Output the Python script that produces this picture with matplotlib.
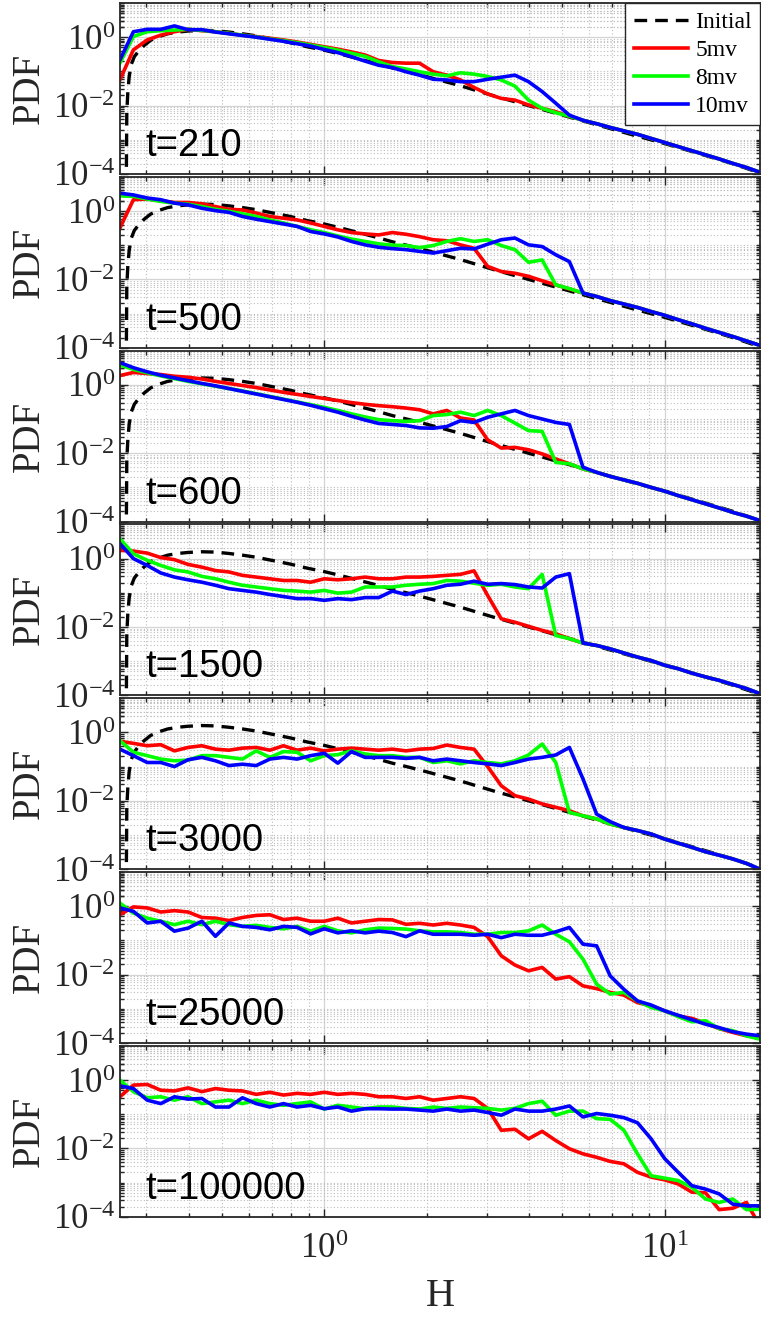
import numpy as np
import matplotlib
matplotlib.use('Agg')
import matplotlib.pyplot as plt
from matplotlib.ticker import FixedLocator, NullFormatter

# сетка по H (общая для всех кривых)
h = [0.251, 0.275, 0.302, 0.331, 0.363, 0.398, 0.437, 0.479, 0.525, 0.575,
     0.631, 0.692, 0.759, 0.832, 0.912, 1.000, 1.096, 1.202, 1.318, 1.445,
     1.585, 1.738, 1.905, 2.089, 2.291, 2.512, 2.754, 3.020, 3.311, 3.631,
     3.981, 4.365, 4.786, 5.248, 5.754, 6.310, 6.918, 7.586, 8.318, 9.120,
     10.00, 10.96, 12.02, 13.18, 14.45, 15.85, 17.38, 19.05]

# начальное распределение (log10 PDF)
h_init = [0.2618, 0.2630, 0.2649, 0.2673, 0.2710, 0.2767, 0.2851, 0.2951, 0.3090, 0.3273,
          0.3467, 0.3715, 0.3981, 0.4365, 0.4786, 0.5248, 0.5754, 0.6310, 0.7079, 0.7943,
          0.8913, 1.000, 1.122, 1.259, 1.413, 1.585, 1.778, 1.995, 2.512, 3.162,
          3.981, 5.012, 6.310, 7.943, 10.00, 12.59, 15.85, 19.05]
lg_init = [-5.0, -2.2, -1.6, -1.15, -0.8, -0.57, -0.40, -0.25, -0.09, 0.02,
           0.10, 0.15, 0.18, 0.20, 0.19, 0.15, 0.10, 0.04, -0.06, -0.16,
           -0.28, -0.38, -0.50, -0.63, -0.76, -0.90, -1.02, -1.15, -1.42, -1.72,
           -2.00, -2.28, -2.56, -2.84, -3.11, -3.40, -3.70, -3.97]

# t=210
r210 = [-1.25, -0.37, -0.08, 0.06, 0.16, 0.23, 0.19, 0.16, 0.11, 0.06, 0.02, -0.03, -0.08, -0.14, -0.21, -0.28,
        -0.35, -0.43, -0.52, -0.68, -0.74, -0.76, -0.76, -1.01, -1.11, -1.25, -1.47, -1.66, -1.79, -1.84, -1.98, -2.08,
        -2.18, -2.31, -2.43, -2.53, -2.64, -2.74, -2.84, -2.96, -3.08, -3.20, -3.32, -3.44, -3.56, -3.69, -3.81, -3.95]
g210 = [-0.76, 0.02, 0.16, 0.19, 0.21, 0.23, 0.20, 0.16, 0.11, 0.06, 0.01, -0.05, -0.10, -0.16, -0.23, -0.30,
        -0.38, -0.47, -0.56, -0.72, -0.86, -0.93, -1.01, -1.08, -1.13, -1.04, -1.08, -1.15, -1.25, -1.43, -1.84, -2.08,
        -2.21, -2.31, -2.43, -2.53, -2.64, -2.74, -2.84, -2.96, -3.08, -3.20, -3.32, -3.44, -3.56, -3.69, -3.81, -3.95]
b210 = [-0.67, 0.16, 0.23, 0.23, 0.33, 0.22, 0.22, 0.15, 0.10, 0.05, 0.00, -0.06, -0.12, -0.19, -0.26, -0.36,
        -0.45, -0.57, -0.70, -0.82, -0.89, -1.01, -1.11, -1.23, -1.25, -1.30, -1.30, -1.23, -1.17, -1.11, -1.30, -1.59,
        -1.93, -2.28, -2.43, -2.53, -2.64, -2.74, -2.84, -2.96, -3.08, -3.20, -3.32, -3.44, -3.56, -3.69, -3.81, -3.95]

# t=500
r500 = [-0.50, 0.33, 0.35, 0.30, 0.25, 0.25, 0.21, 0.13, 0.05, 0.03, -0.06, -0.16, -0.21, -0.26, -0.35, -0.45,
        -0.55, -0.63, -0.67, -0.70, -0.63, -0.68, -0.75, -0.84, -0.87, -0.99, -1.09, -1.62, -1.77, -1.82, -1.91, -2.04,
        -2.16, -2.28, -2.40, -2.50, -2.62, -2.72, -2.82, -2.94, -3.05, -3.18, -3.30, -3.43, -3.55, -3.67, -3.80, -3.93]
g500 = [0.44, 0.43, 0.35, 0.28, 0.23, 0.20, 0.13, 0.05, -0.01, -0.08, -0.16, -0.26, -0.35, -0.45, -0.55, -0.63,
        -0.73, -0.82, -0.89, -0.96, -1.00, -1.01, -1.07, -1.01, -0.89, -0.81, -0.89, -0.84, -1.01, -1.13, -1.50, -1.43,
        -2.16, -2.27, -2.40, -2.50, -2.62, -2.72, -2.82, -2.94, -3.05, -3.18, -3.30, -3.43, -3.55, -3.67, -3.80, -3.93]
b500 = [0.52, 0.47, 0.38, 0.33, 0.23, 0.18, 0.08, 0.01, -0.04, -0.16, -0.24, -0.31, -0.38, -0.45, -0.60, -0.67,
        -0.76, -0.89, -0.99, -1.06, -1.10, -1.13, -1.18, -1.23, -1.16, -1.09, -1.11, -0.97, -0.84, -0.79, -0.99, -1.04,
        -1.28, -1.48, -2.40, -2.50, -2.62, -2.72, -2.82, -2.94, -3.05, -3.18, -3.30, -3.43, -3.55, -3.67, -3.80, -3.93]

# t=600
r600 = [0.27, 0.36, 0.33, 0.30, 0.25, 0.22, 0.17, 0.10, 0.04, -0.02, -0.08, -0.15, -0.22, -0.28, -0.34, -0.40,
        -0.46, -0.52, -0.57, -0.61, -0.64, -0.68, -0.73, -0.85, -0.75, -0.97, -1.03, -1.61, -1.85, -1.83, -1.90, -2.02,
        -2.17, -2.31, -2.46, -2.56, -2.68, -2.78, -2.88, -3.00, -3.11, -3.24, -3.36, -3.48, -3.60, -3.73, -3.84, -3.97]
g600 = [0.58, 0.45, 0.35, 0.26, 0.18, 0.10, 0.03, -0.04, -0.11, -0.18, -0.26, -0.34, -0.42, -0.50, -0.58, -0.66,
        -0.75, -0.85, -0.94, -1.02, -1.05, -1.07, -1.05, -0.90, -0.87, -0.80, -0.90, -0.75, -0.90, -1.12, -1.34, -1.36,
        -2.27, -2.31, -2.46, -2.56, -2.68, -2.78, -2.88, -3.00, -3.11, -3.24, -3.36, -3.48, -3.60, -3.73, -3.84, -3.97]
b600 = [0.65, 0.50, 0.38, 0.28, 0.20, 0.12, 0.04, -0.03, -0.11, -0.19, -0.27, -0.35, -0.43, -0.51, -0.60, -0.70,
        -0.80, -0.92, -1.03, -1.13, -1.16, -1.19, -1.26, -1.27, -1.22, -1.05, -1.10, -0.95, -0.85, -0.75, -0.90, -1.00,
        -1.10, -1.16, -2.41, -2.56, -2.68, -2.78, -2.88, -3.00, -3.11, -3.24, -3.36, -3.48, -3.60, -3.73, -3.84, -3.97]

# t=1500
r1500 = [0.24, 0.22, 0.16, 0.03, -0.03, -0.17, -0.25, -0.35, -0.39, -0.49, -0.54, -0.59, -0.64, -0.64, -0.69, -0.59,
         -0.62, -0.59, -0.54, -0.59, -0.59, -0.54, -0.54, -0.52, -0.49, -0.46, -0.36, -1.08, -1.76, -1.86, -1.98, -2.10,
         -2.20, -2.34, -2.47, -2.54, -2.64, -2.76, -2.88, -2.98, -3.12, -3.22, -3.35, -3.46, -3.56, -3.68, -3.80, -3.95]
g1500 = [0.58, 0.14, -0.05, -0.20, -0.33, -0.39, -0.52, -0.59, -0.69, -0.78, -0.83, -0.88, -0.93, -0.95, -0.98, -0.93,
         -1.01, -0.98, -0.83, -0.83, -0.83, -0.78, -0.75, -0.73, -0.64, -0.66, -0.72, -0.78, -0.75, -0.83, -0.88, -0.46,
         -2.25, -2.34, -2.47, -2.54, -2.64, -2.76, -2.88, -2.98, -3.12, -3.22, -3.35, -3.46, -3.56, -3.68, -3.80, -3.95]
b1500 = [0.44, 0.00, -0.20, -0.42, -0.54, -0.62, -0.69, -0.78, -0.88, -0.93, -0.98, -1.05, -1.11, -1.17, -1.17, -1.22,
         -1.17, -1.20, -1.14, -1.14, -0.95, -1.05, -0.95, -0.88, -0.78, -0.75, -0.66, -0.75, -0.73, -0.76, -0.83, -0.86,
         -0.54, -0.44, -2.47, -2.54, -2.64, -2.76, -2.88, -2.98, -3.12, -3.22, -3.35, -3.46, -3.56, -3.68, -3.80, -3.95]

# t=3000
r3000 = [-0.26, -0.32, -0.39, -0.36, -0.54, -0.44, -0.39, -0.49, -0.52, -0.46, -0.44, -0.52, -0.39, -0.52, -0.46, -0.54,
         -0.49, -0.46, -0.49, -0.52, -0.49, -0.54, -0.49, -0.47, -0.37, -0.44, -0.49, -1.00, -1.56, -1.85, -1.95, -2.09,
         -2.19, -2.29, -2.44, -2.53, -2.68, -2.78, -2.87, -2.97, -3.12, -3.24, -3.36, -3.49, -3.59, -3.70, -3.83, -4.00]
g3000 = [-0.24, -0.58, -0.68, -0.78, -0.83, -0.81, -0.68, -0.68, -0.73, -0.78, -0.54, -0.73, -0.56, -0.58, -0.83, -0.68,
         -0.65, -0.54, -0.63, -0.68, -0.68, -0.73, -0.73, -0.88, -0.83, -0.92, -0.83, -0.88, -0.92, -0.83, -0.66, -0.34,
         -0.88, -2.34, -2.44, -2.53, -2.68, -2.78, -2.87, -2.97, -3.12, -3.24, -3.36, -3.49, -3.59, -3.70, -3.83, -4.00]
b3000 = [-0.49, -0.68, -0.88, -0.88, -1.00, -0.80, -0.73, -0.83, -0.97, -0.93, -0.97, -0.78, -0.73, -0.78, -0.68, -0.61,
         -0.90, -0.56, -0.73, -0.73, -0.73, -0.76, -0.73, -0.83, -0.78, -0.83, -0.88, -0.92, -0.97, -0.88, -0.78, -0.73,
         -0.66, -0.44, -1.36, -2.39, -2.61, -2.78, -2.87, -2.97, -3.12, -3.24, -3.36, -3.49, -3.59, -3.70, -3.83, -4.00]

# t=25000
r25000 = [-0.25, -0.02, -0.05, -0.17, -0.13, -0.17, -0.33, -0.35, -0.42, -0.33, -0.27, -0.25, -0.39, -0.35, -0.44, -0.44,
          -0.35, -0.49, -0.44, -0.39, -0.40, -0.53, -0.50, -0.55, -0.50, -0.55, -0.62, -0.89, -1.45, -1.72, -1.89, -1.79,
          -2.13, -2.06, -2.33, -2.41, -2.52, -2.60, -2.82, -2.91, -3.06, -3.21, -3.28, -3.42, -3.58, -3.69, -3.79, -3.84]
g25000 = [0.09, -0.20, -0.35, -0.44, -0.54, -0.44, -0.54, -0.44, -0.54, -0.59, -0.56, -0.62, -0.66, -0.59, -0.73, -0.59,
          -0.72, -0.78, -0.69, -0.64, -0.65, -0.67, -0.72, -0.75, -0.75, -0.77, -0.82, -0.82, -0.77, -0.77, -0.72, -0.55,
          -0.82, -1.04, -1.55, -2.28, -2.57, -2.52, -2.77, -2.96, -3.06, -3.23, -3.38, -3.35, -3.58, -3.64, -3.79, -3.89]
b25000 = [-0.05, -0.15, -0.49, -0.44, -0.73, -0.64, -0.44, -0.88, -0.49, -0.59, -0.62, -0.69, -0.59, -0.62, -0.81, -0.66,
          -0.78, -0.72, -0.78, -0.73, -0.77, -0.89, -0.72, -0.82, -0.82, -0.82, -0.85, -0.82, -0.92, -0.82, -0.85, -0.85,
          -0.75, -0.62, -1.11, -1.16, -2.04, -2.43, -2.77, -2.89, -3.06, -3.19, -3.32, -3.45, -3.55, -3.67, -3.74, -3.79]

# t=100000
r100000 = [-0.49, -0.15, -0.13, -0.30, -0.32, -0.23, -0.34, -0.25, -0.30, -0.32, -0.42, -0.36, -0.44, -0.39, -0.42, -0.36,
           -0.42, -0.39, -0.42, -0.49, -0.49, -0.54, -0.49, -0.59, -0.54, -0.49, -0.54, -0.83, -1.47, -1.44, -1.72, -1.50,
           -1.77, -2.01, -2.16, -2.26, -2.38, -2.45, -2.70, -2.84, -2.92, -3.04, -3.28, -3.30, -3.79, -3.75, -3.58, -4.27]
g100000 = [0.00, -0.34, -0.52, -0.49, -0.59, -0.49, -0.69, -0.64, -0.59, -0.69, -0.59, -0.69, -0.74, -0.69, -0.64, -0.85,
           -0.74, -0.79, -0.84, -0.79, -0.79, -0.83, -0.85, -0.79, -0.83, -0.79, -0.81, -0.83, -0.88, -0.83, -0.69, -0.62,
           -1.03, -0.91, -0.91, -1.13, -1.15, -1.47, -2.16, -2.80, -2.87, -2.94, -3.14, -3.48, -3.58, -3.48, -3.79, -3.78]
b100000 = [-0.17, -0.25, -0.59, -0.69, -0.49, -0.56, -0.54, -0.79, -0.79, -0.52, -0.69, -0.79, -0.69, -0.79, -0.74, -0.84,
           -0.79, -0.91, -0.84, -0.84, -0.85, -0.85, -0.88, -0.91, -0.85, -0.91, -0.88, -0.95, -1.03, -0.85, -0.91, -0.91,
           -0.85, -0.76, -1.08, -0.98, -1.03, -1.10, -1.25, -1.72, -2.30, -2.70, -3.09, -3.19, -3.33, -3.63, -3.68, -3.68]

times = ['210', '500', '600', '1500', '3000', '25000', '100000']
red = [r210, r500, r600, r1500, r3000, r25000, r100000]
green = [g210, g500, g600, g1500, g3000, g25000, g100000]
blue = [b210, b500, b600, b1500, b3000, b25000, b100000]
show_init = [True, True, True, True, True, False, False]

plt.rcParams['font.family'] = 'Liberation Serif'
plt.rcParams['mathtext.fontset'] = 'custom'
plt.rcParams['mathtext.rm'] = 'Liberation Serif'
plt.rcParams['axes.unicode_minus'] = False

fig = plt.figure(figsize=(7.61, 13.2), dpi=100)
W, H_px = 761, 1320
edge = '#262626'

y_minor = [m * 10.0 ** k for k in range(-4, 1) for m in range(1, 10)]
y_minor = [v for v in y_minor if v not in (1e-4, 1e-2, 1.0)] + [2, 3, 4, 5, 6, 7, 8, 9, 10]
x_minor = [0.3, 0.4, 0.5, 0.6, 0.7, 0.8, 0.9, 2, 3, 4, 5, 6, 7, 8, 9, 20]

axes = []
for k in range(7):
    top = 3 + 173.8 * k
    ax = fig.add_axes([120 / W, 1 - (top + 171) / H_px, 640 / W, 171 / H_px])
    axes.append(ax)
    ax.set_xscale('log')
    ax.set_yscale('log')
    ax.set_axisbelow(True)
    if show_init[k]:
        ax.plot(h_init, np.power(10.0, lg_init), color='k', lw=2.4, ls=(0, (3.8, 2.4)), label='Initial')
    ax.plot(h, np.power(10.0, red[k]), color='#ff0000', lw=2.6, label='5mv')
    ax.plot(h, np.power(10.0, green[k]), color='#00ff00', lw=2.6, label='8mv')
    ax.plot(h, np.power(10.0, blue[k]), color='#0000ff', lw=2.6, label='10mv')

    ax.set_xlim(0.2512, 19.05)
    ax.set_ylim(1e-4, 10)
    ax.xaxis.set_major_locator(FixedLocator([1, 10]))
    ax.xaxis.set_minor_locator(FixedLocator(x_minor))
    ax.yaxis.set_major_locator(FixedLocator([1e-4, 1e-2, 1]))
    ax.yaxis.set_minor_locator(FixedLocator(y_minor))
    ax.xaxis.set_minor_formatter(NullFormatter())
    ax.yaxis.set_minor_formatter(NullFormatter())
    if k < 6:
        ax.xaxis.set_major_formatter(NullFormatter())

    ax.grid(True, which='major', color='#d4d4d4', lw=0.9, ls='-')
    ax.grid(True, which='minor', color='#bdbdbd', lw=0.8, ls=(0, (1, 2)))
    ax.tick_params(which='both', direction='in', top=True, right=True, colors=edge,
                   labelsize=25, width=1.0)
    ax.tick_params(which='major', length=6)
    ax.tick_params(which='minor', length=3)
    ax.tick_params(axis='x', which='major', pad=12)
    for s in ax.spines.values():
        s.set_color(edge)
        s.set_linewidth(1.3)

    ax.set_ylabel('PDF', fontsize=28, color=edge)
    ax.yaxis.set_label_coords(-0.113, 0.5)
    ax.text(0.04, 0.105, 't=' + times[k], transform=ax.transAxes,
            family='Liberation Sans', fontsize=27.5, color='k')

leg = axes[0].legend(loc='upper right', borderaxespad=0, fancybox=False, framealpha=1,
                     edgecolor=edge, fontsize=17, handlelength=2.3, labelspacing=0.28,
                     handletextpad=0.3, borderpad=0.35)
leg.get_frame().set_linewidth(1.0)

axes[-1].set_xlabel('H', fontsize=29, color=edge, labelpad=8)

fig.savefig('out.png', dpi=100)
